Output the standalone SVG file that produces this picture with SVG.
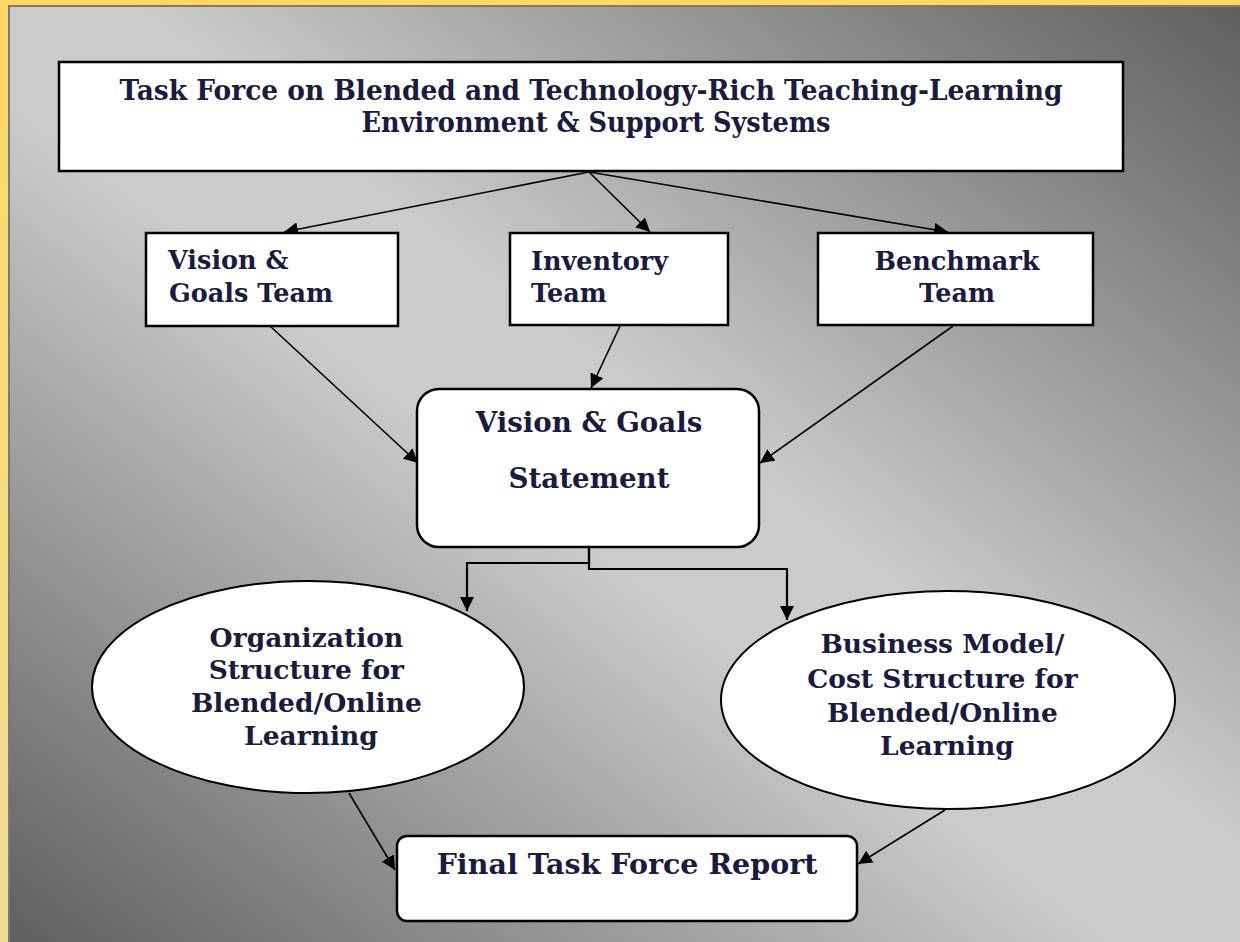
<svg xmlns="http://www.w3.org/2000/svg" width="1240" height="942" viewBox="0 0 1240 942">
  <defs>
    <linearGradient id="bg" gradientUnits="userSpaceOnUse" x1="1074" y1="-126" x2="166" y2="1068">
      <stop offset="0" stop-color="#5e5e5e"/>
      <stop offset="0.45" stop-color="#cbcbcb"/>
      <stop offset="0.55" stop-color="#cbcbcb"/>
      <stop offset="1" stop-color="#5e5e5e"/>
    </linearGradient>
    <linearGradient id="yel" x1="0" y1="0" x2="0" y2="1">
      <stop offset="0" stop-color="#fdd862"/>
      <stop offset="1" stop-color="#efdd98"/>
    </linearGradient>
    <marker id="arr" markerUnits="userSpaceOnUse" markerWidth="16" markerHeight="14" refX="14" refY="7" orient="auto">
      <path d="M0,0 L14,7 L0,14 Z" fill="#000"/>
    </marker>
    <style>
      .box { fill: #fff; stroke: #000; stroke-width: 2.5; }
      .ell { fill: #fff; stroke: #000; stroke-width: 2; }
      .t { font-family: "DejaVu Serif", "Liberation Serif", serif; font-weight: bold; fill: #1b1b3f; }
      .c { stroke: #000; stroke-width: 1.6; fill: none; marker-end: url(#arr); }
      .e { stroke: #000; stroke-width: 2.2; fill: none; marker-end: url(#arr); }
    </style>
  </defs>

  <rect x="0" y="0" width="1240" height="942" fill="url(#yel)"/>
  <rect x="9" y="6" width="1233" height="940" fill="url(#bg)" stroke="#7a7a7a" stroke-width="2"/>

  <g id="connectors">
    <line class="c" x1="589" y1="172" x2="284" y2="232"/>
    <line class="c" x1="589" y1="172" x2="650" y2="232"/>
    <line class="c" x1="589" y1="172" x2="948" y2="232"/>
    <line class="c" x1="270" y1="326" x2="418" y2="463"/>
    <line class="c" x1="620" y1="326" x2="591" y2="388"/>
    <line class="c" x1="953" y1="326" x2="760" y2="463"/>
    <polyline class="e" points="589,548 589,563 467,563 467,611"/>
    <polyline class="e" points="589,548 589,569 787,569 787,620"/>
    <line class="c" x1="349" y1="793" x2="395" y2="870"/>
    <line class="c" x1="945" y1="810" x2="858" y2="864"/>
  </g>

  <g id="taskforce">
    <rect class="box" x="59" y="62" width="1064" height="109"/>
    <text class="t" x="591" y="100" font-size="27" text-anchor="middle" textLength="943" lengthAdjust="spacingAndGlyphs">Task Force on Blended and Technology-Rich Teaching-Learning</text>
    <text class="t" x="596" y="132" font-size="27" text-anchor="middle" textLength="469" lengthAdjust="spacingAndGlyphs">Environment &amp; Support Systems</text>
  </g>

  <g id="vision-team">
    <rect class="box" x="146" y="233" width="252" height="93"/>
    <text class="t" x="168" y="269" font-size="25.5">Vision &amp;</text>
    <text class="t" x="169" y="302" font-size="25.5">Goals Team</text>
  </g>

  <g id="inventory-team">
    <rect class="box" x="510" y="233" width="218" height="92"/>
    <text class="t" x="531" y="270" font-size="25.5">Inventory</text>
    <text class="t" x="531" y="302" font-size="25.5">Team</text>
  </g>

  <g id="benchmark-team">
    <rect class="box" x="818" y="233" width="275" height="92"/>
    <text class="t" x="957" y="270" font-size="25.5" text-anchor="middle">Benchmark</text>
    <text class="t" x="957" y="302" font-size="25.5" text-anchor="middle">Team</text>
  </g>

  <g id="vision-statement">
    <rect class="box" x="417" y="389" width="342" height="158" rx="22" ry="22"/>
    <text class="t" x="589" y="432" font-size="27.7" text-anchor="middle">Vision &amp; Goals</text>
    <text class="t" x="589" y="488" font-size="27.7" text-anchor="middle">Statement</text>
  </g>

  <g id="org-structure">
    <ellipse class="ell" cx="308" cy="687" rx="216" ry="106"/>
    <text class="t" font-size="26.5" text-anchor="middle">
      <tspan x="311" y="647">Organization</tspan>
      <tspan x="311" y="679">Structure for</tspan>
      <tspan x="311" y="712">Blended/Online</tspan>
      <tspan x="311" y="745">Learning</tspan>
    </text>
  </g>

  <g id="business-model">
    <ellipse class="ell" cx="948" cy="700" rx="227" ry="109"/>
    <text class="t" font-size="26.5" text-anchor="middle">
      <tspan x="947" y="653">Business Model/</tspan>
      <tspan x="947" y="688">Cost Structure for</tspan>
      <tspan x="947" y="722">Blended/Online</tspan>
      <tspan x="947" y="755">Learning</tspan>
    </text>
  </g>

  <g id="final-report">
    <rect class="box" x="397" y="836" width="460" height="85" rx="10" ry="10"/>
    <text class="t" x="627" y="874" font-size="28.5" text-anchor="middle">Final Task Force Report</text>
  </g>
</svg>
